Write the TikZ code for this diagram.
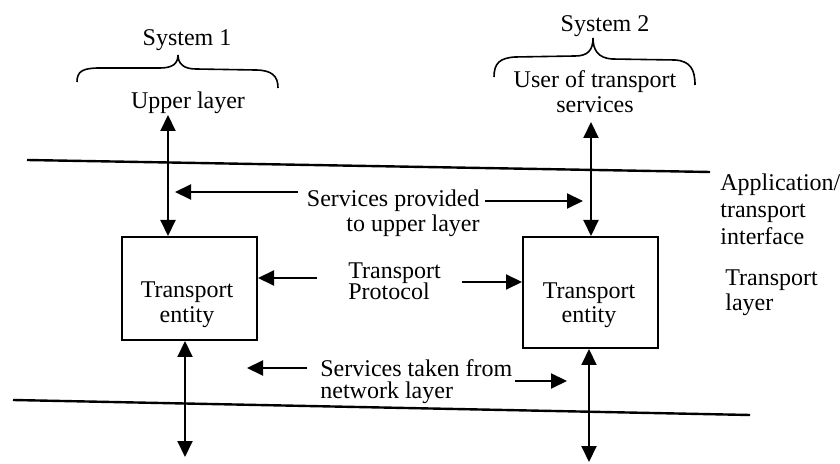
\documentclass[tikz,border=0pt]{standalone}
\usepackage{fontspec}
\setmainfont{Liberation Serif}
\usetikzlibrary{arrows.meta}
\begin{document}
\begin{tikzpicture}[x=0.5pt,y=-0.5pt,
  txt/.style={inner sep=0pt,font=\fontsize{12}{14}\selectfont},
  dbl/.style={line width=1pt,{Triangle[length=8pt,width=7.5pt]}-{Triangle[length=8pt,width=7.5pt]}},
  one/.style={line width=1pt,-{Triangle[length=8pt,width=7.5pt]}},
  layerline/.style={line width=1.2pt},
  bracestyle/.style={line width=0.8pt},
  entity/.style={draw,line width=1pt,inner sep=0pt,minimum width=67.5pt}]
\useasboundingbox (0,0) rectangle (840,464);

% boxes
\node[entity,minimum height=51.5pt] (box1) at (189.5,288.5) {};
\node[entity,minimum height=55.5pt] (box2) at (590.5,292.5) {};
\node[txt,anchor=base] (b1a) at (187,298) {Transport};
\node[txt,anchor=base] (b1b) at (187,323) {entity};
\node[txt,anchor=base] (b2a) at (589,299) {Transport};
\node[txt,anchor=base] (b2b) at (589,323) {entity};

% top labels
\node[txt,anchor=base] (sys1) at (187,46) {System 1};
\node[txt,anchor=base] (sys2) at (605,32) {System 2};
\node[txt,anchor=base] (upper) at (188,109) {Upper layer};
\node[txt,anchor=base] (user1) at (595,88) {User of transport};
\node[txt,anchor=base] (user2) at (595,113) {services};

% right labels
\node[txt,anchor=base west] (app1) at (720,191) {Application/};
\node[txt,anchor=base west] (app2) at (720,218) {transport};
\node[txt,anchor=base west] (app3) at (720,245) {interface};
\node[txt,anchor=base west] (tl1) at (725,286) {Transport};
\node[txt,anchor=base west] (tl2) at (725,311) {layer};

% middle labels
\node[txt,anchor=base east] (sp1) at (480,207) {Services provided};
\node[txt,anchor=base east] (sp2) at (480,232) {to upper layer};
\node[txt,anchor=base west] (tp1) at (348,279) {Transport};
\node[txt,anchor=base west] (tp2) at (348,300) {Protocol};
\node[txt,anchor=base west] (st1) at (320,377) {Services taken from};
\node[txt,anchor=base west] (st2) at (320,399) {network layer};

% braces
\draw[bracestyle] (77,82) .. controls (77,71) and (83,68) .. (100,68) -- (160,68)
  .. controls (172,68) and (178,64) .. (178,55)
  .. controls (178,64) and (184,69) .. (196,69) -- (255,70)
  .. controls (272,70) and (278,76) .. (278,88);
\draw[bracestyle] (494,77) .. controls (494,63) and (500,58) .. (515,57) -- (575,56)
  .. controls (588,56) and (593,50) .. (593,38)
  .. controls (593,50) and (598,58) .. (612,59) -- (675,60)
  .. controls (690,61) and (695,69) .. (695,85);

% layer lines
\coordinate (l1a) at (27,160);
\coordinate (l1b) at (710,172);
\coordinate (l2a) at (13,400);
\coordinate (l2b) at (750,415);
\draw[layerline] (l1a) -- (l1b);
\draw[layerline] (l2a) -- (l2b);

% vertical arrows
\coordinate (v1t) at (168,115);
\coordinate (v2t) at (591,122);
\coordinate (v1b) at (185,457);
\coordinate (v2b) at (589,462);
\draw[dbl] (v1t) -- (v1t |- box1.north);
\draw[dbl] (v2t) -- (v2t |- box2.north);
\draw[dbl] (v1b |- box1.south) -- (v1b);
\draw[dbl] (v2b |- box2.south) -- (v2b);

% horizontal arrows
\coordinate (spl) at (298,192);
\coordinate (splt) at (175,192);
\coordinate (spr) at (485,201);
\coordinate (sprt) at (583,201);
\draw[one] (spl) -- (splt);
\draw[one] (spr) -- (sprt);
\coordinate (tpl) at (317,278);
\coordinate (tpr) at (462,282);
\draw[one] (tpl) -- (tpl -| box1.east);
\draw[one] (tpr) -- (tpr -| box2.west);
\coordinate (stl) at (307,368);
\coordinate (stlt) at (247,368);
\coordinate (str) at (515,381);
\coordinate (strt) at (567,381);
\draw[one] (stl) -- (stlt);
\draw[one] (str) -- (strt);
\end{tikzpicture}
\end{document}
